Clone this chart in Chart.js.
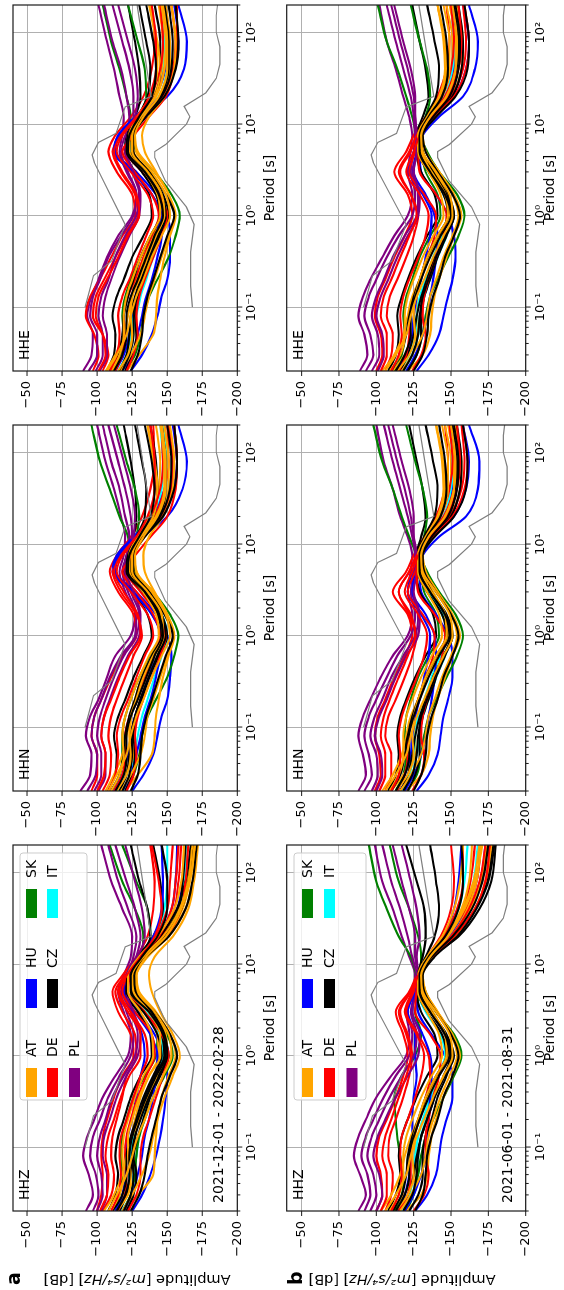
<!DOCTYPE html>
<html><head><meta charset="utf-8">
<script src="https://cdn.jsdelivr.net/npm/chart.js@4.4.1/dist/chart.umd.min.js"></script>
<style>
html,body{margin:0;padding:0;background:#fff;width:564px;height:1290px;overflow:hidden}
#fig{position:absolute;left:0;top:0;width:1290px;height:564px;transform-origin:0 0;transform:translate(0px,1290px) rotate(-90deg);background:#fff}
#fig canvas{position:absolute;left:0;top:0}
</style></head><body><div id="fig"></div>
<script>
// ---------- axis definitions ----------
const periods = [0.02,0.03,0.05,0.08,0.13,0.2,0.35,0.6,1,1.7,3,5,7.5,12,20,40,80,200];
const xTickValues = [0.02,0.03,0.04,0.05,0.06,0.07,0.08,0.09,0.1,0.2,0.3,0.4,0.5,0.6,0.7,0.8,0.9,1,2,3,4,5,6,7,8,9,10,20,30,40,50,60,70,80,90,100,200];
const xMajorTicks = [0.1,1,10,100];
const xTickLabels = ['10\u207B\u00B9','10\u2070','10\u00B9','10\u00B2'];
const yTickValues = [-200,-175,-150,-125,-100,-75,-50];
const networks = ['AT','DE','PL','HU','CZ','SK','IT'];
const netColors = ['#ffa500','#ff0000','#800080','#0000ff','#000000','#008000','#00ffff'];
const drawOrder = ['PL','SK','HU','IT','DE','CZ','AT'];
const dateLabels = ['2021-12-01 - 2022-02-28','2021-06-01 - 2021-08-31'];
const channels = ['HHZ','HHN','HHE'];
const rowLetters = ['a','b'];

// Peterson noise models (NHNM / NLNM)
const nhnmPeriods = [0.1,0.22,0.32,0.8,3.8,4.6,6.3,7.9,15.4,20,354.8];
const nhnmValues = [-91.5,-97.4,-110.5,-120.0,-98.0,-96.5,-101.0,-113.5,-120.0,-138.5,-126.0];
const nlnmPeriods = [0.1,0.17,0.4,0.8,1.24,2.4,4.3,5,6,10,12,15.6,21.9,31.6,45,70,101,154,328];
const nlnmValues = [-168.0,-166.7,-166.7,-169.2,-163.7,-148.6,-141.1,-141.1,-149.0,-163.8,-166.2,-162.1,-177.5,-185.0,-187.5,-187.5,-185.0,-185.0,-187.5];

// ---------- a: 2021-12-01 - 2022-02-28 ----------
const aHHZ_AT = [
[-112,-119,-128,-126,-125,-127,-131,-137,-144,-143,-135,-124,-124,-132,-146,-158,-164,-167],
[-120,-129,-140,-141,-142,-143,-146,-151,-156,-152,-142,-130,-128,-136,-151,-163,-168,-170],
[-105,-112,-118,-121,-125,-130,-136,-143,-150,-149,-140,-128,-127,-135,-150,-161,-166,-169],
[-118,-125,-132,-137,-140,-143,-148,-154,-159,-154,-145,-139,-137,-141,-154,-165,-169,-172],
[-110,-116,-119,-118,-119,-122,-127,-133,-140,-139,-131,-122,-122,-130,-143,-155,-160,-162],
[-114,-122,-124,-122,-122,-125,-130,-137,-145,-145,-137,-126,-125,-133,-147,-159,-165,-168],
[-108,-114,-121,-125,-129,-134,-140,-147,-153,-151,-141,-129,-128,-135,-149,-160,-166,-170]];
const aHHZ_DE = [
[-100,-103,-104,-103,-104,-107,-112,-118,-126,-124,-115,-111,-118,-128,-136,-140,-141,-138],
[-104,-110,-112,-110,-111,-114,-118,-121,-128,-127,-118,-113,-120,-131,-142,-150,-152,-154],
[-115,-120,-121,-120,-121,-124,-129,-135,-141,-139,-127,-118,-122,-133,-146,-155,-158,-160],
[-122,-128,-131,-131,-133,-137,-142,-147,-151,-146,-134,-122,-124,-134,-149,-160,-163,-165],
[-102,-107,-108,-106,-108,-112,-117,-123,-131,-131,-122,-115,-121,-131,-144,-153,-156,-158],
[-110,-115,-117,-116,-117,-121,-126,-131,-136,-134,-124,-116,-121,-131,-141,-146,-144,-139]];
const aHHZ_PL = [
[-92,-97,-94,-90,-93,-98,-104,-113,-122,-124,-119,-115,-119,-124,-125,-118,-110,-103],
[-97,-101,-99,-95,-97,-102,-108,-116,-124,-126,-121,-117,-121,-126,-128,-122,-115,-108],
[-100,-104,-103,-100,-102,-106,-111,-119,-127,-129,-124,-119,-122,-128,-131,-127,-121,-113],
[-103,-107,-107,-104,-105,-109,-114,-121,-129,-131,-126,-121,-123,-129,-134,-132,-127,-120]];
const aHHZ_HU = [
[-125,-132,-138,-142,-145,-147,-149,-150,-148,-141,-130,-120,-121,-131,-146,-157,-161,-163],
[-113,-118,-120,-121,-122,-125,-128,-131,-134,-132,-125,-118,-121,-130,-140,-146,-147,-146],
[-119,-125,-129,-132,-134,-137,-140,-142,-143,-138,-127,-119,-121,-130,-144,-153,-156,-157]];
const aHHZ_CZ = [
[-108,-113,-115,-113,-115,-119,-124,-131,-139,-138,-129,-120,-121,-129,-140,-147,-145,-140],
[-116,-121,-124,-126,-129,-133,-138,-145,-151,-147,-137,-125,-125,-133,-147,-158,-161,-163],
[-121,-126,-128,-126,-127,-130,-134,-141,-148,-146,-138,-126,-125,-132,-145,-157,-163,-167],
[-111,-118,-121,-121,-124,-128,-133,-140,-146,-143,-133,-121,-122,-130,-138,-136,-130,-124],
[-124,-130,-134,-136,-139,-142,-146,-152,-157,-152,-141,-128,-127,-135,-151,-163,-168,-171],
[-119,-124,-126,-125,-127,-131,-137,-144,-150,-148,-139,-127,-126,-134,-148,-160,-165,-168],
[-114,-120,-123,-123,-125,-129,-135,-142,-149,-147,-137,-124,-124,-132,-143,-150,-150,-146]];
const aHHZ_SK = [
[-112,-116,-118,-117,-118,-121,-126,-134,-142,-143,-134,-124,-125,-131,-133,-127,-118,-109],
[-118,-124,-127,-128,-130,-134,-140,-148,-154,-150,-140,-127,-127,-133,-138,-136,-128,-118]];
const aHHZ_IT = [
[-118,-124,-126,-128,-130,-133,-137,-143,-148,-145,-135,-124,-125,-133,-142,-148,-150,-150],
[-116,-121,-123,-124,-126,-130,-135,-141,-147,-145,-136,-125,-125,-134,-148,-158,-162,-164]];

const aHHN_AT = [
[-112,-119,-126,-124,-124,-127,-132,-139,-146,-144,-134,-123,-124,-130,-139,-144,-145,-142],
[-120,-129,-139,-141,-142,-144,-147,-151,-155,-150,-140,-128,-127,-134,-145,-151,-151,-148],
[-106,-112,-118,-121,-124,-129,-135,-141,-148,-146,-137,-126,-125,-131,-140,-143,-141,-136],
[-117,-124,-131,-134,-136,-140,-145,-150,-154,-150,-141,-134,-133,-137,-147,-154,-155,-152],
[-110,-116,-119,-118,-120,-124,-130,-137,-144,-142,-133,-123,-123,-129,-137,-141,-140,-136],
[-114,-121,-124,-123,-124,-128,-133,-140,-147,-146,-136,-125,-125,-131,-142,-148,-148,-145],
[-108,-114,-121,-124,-128,-133,-139,-146,-152,-149,-139,-128,-127,-133,-143,-149,-149,-146]];
const aHHN_DE = [
[-96,-100,-100,-96,-98,-103,-110,-118,-128,-126,-115,-109,-114,-124,-132,-138,-141,-140],
[-104,-109,-110,-108,-110,-114,-120,-126,-132,-128,-117,-111,-118,-130,-141,-148,-151,-150],
[-112,-118,-120,-120,-123,-128,-134,-140,-145,-140,-128,-118,-127,-138,-150,-156,-157,-155],
[-121,-126,-128,-127,-129,-133,-139,-145,-149,-143,-131,-121,-124,-133,-146,-153,-154,-151],
[-100,-105,-106,-103,-105,-110,-116,-123,-131,-129,-119,-112,-117,-128,-138,-145,-147,-146],
[-108,-113,-115,-114,-117,-122,-128,-134,-140,-136,-124,-114,-118,-128,-136,-141,-141,-138]];
const aHHN_PL = [
[-88,-95,-96,-92,-95,-101,-107,-113,-124,-127,-120,-116,-119,-120,-117,-112,-106,-100],
[-93,-99,-100,-96,-98,-103,-109,-117,-127,-128,-122,-118,-121,-123,-120,-116,-110,-104],
[-98,-103,-103,-100,-102,-106,-112,-119,-128,-130,-124,-120,-122,-125,-124,-120,-115,-108],
[-101,-106,-106,-103,-105,-109,-115,-122,-130,-131,-126,-121,-123,-126,-127,-124,-119,-112]];
const aHHN_HU = [
[-125,-133,-140,-143,-146,-150,-152,-153,-150,-142,-128,-113,-116,-132,-150,-161,-164,-158],
[-112,-118,-122,-124,-127,-131,-136,-141,-145,-139,-125,-111,-114,-126,-140,-148,-150,-148],
[-118,-124,-128,-131,-134,-138,-142,-145,-146,-139,-126,-112,-115,-128,-144,-154,-157,-154]];
const aHHN_CZ = [
[-108,-113,-114,-112,-115,-120,-126,-133,-139,-136,-126,-119,-121,-126,-128,-127,-124,-119],
[-116,-121,-123,-124,-127,-131,-137,-143,-148,-145,-134,-123,-124,-131,-140,-143,-142,-138],
[-120,-125,-127,-126,-128,-132,-137,-144,-150,-146,-136,-124,-125,-133,-144,-149,-149,-146],
[-110,-116,-119,-120,-123,-127,-132,-139,-146,-143,-133,-121,-122,-128,-134,-135,-132,-127],
[-124,-129,-131,-132,-135,-139,-144,-149,-154,-148,-138,-126,-126,-134,-147,-155,-157,-155],
[-118,-123,-125,-125,-127,-131,-137,-143,-149,-146,-136,-125,-125,-133,-145,-152,-153,-150],
[-113,-119,-121,-121,-124,-129,-135,-141,-147,-144,-134,-122,-123,-130,-138,-141,-139,-134]];
const aHHN_SK = [
[-110,-116,-118,-118,-120,-124,-130,-138,-146,-144,-134,-122,-123,-122,-116,-109,-102,-96],
[-120,-126,-130,-132,-136,-142,-150,-155,-158,-152,-140,-127,-126,-128,-130,-127,-121,-114]];
const aHHN_IT = [
[-118,-124,-127,-129,-132,-136,-141,-146,-150,-146,-134,-122,-123,-131,-141,-146,-147,-145],
[-115,-121,-124,-125,-128,-132,-138,-144,-149,-146,-135,-124,-124,-132,-143,-149,-150,-147]];

const aHHE_AT = [
[-111,-118,-126,-125,-125,-128,-133,-140,-147,-145,-135,-124,-124,-130,-140,-146,-147,-144],
[-121,-130,-140,-142,-143,-145,-148,-152,-156,-151,-141,-129,-127,-134,-146,-152,-152,-149],
[-106,-113,-119,-122,-125,-130,-136,-142,-148,-146,-137,-126,-125,-131,-141,-145,-143,-138],
[-117,-124,-131,-134,-137,-141,-146,-151,-155,-151,-142,-134,-132,-137,-148,-155,-156,-153],
[-110,-116,-119,-119,-121,-125,-131,-138,-145,-143,-134,-123,-123,-129,-138,-143,-142,-137],
[-115,-122,-125,-124,-125,-129,-134,-141,-148,-146,-136,-125,-125,-131,-142,-148,-149,-146],
[-107,-114,-121,-124,-128,-133,-139,-146,-152,-149,-139,-128,-127,-133,-144,-150,-150,-147]];
const aHHE_DE = [
[-97,-101,-98,-92,-95,-102,-110,-118,-127,-125,-114,-108,-113,-124,-133,-139,-141,-139],
[-104,-108,-104,-97,-99,-105,-113,-121,-129,-127,-117,-111,-117,-129,-141,-148,-150,-148],
[-113,-118,-120,-119,-122,-127,-133,-139,-144,-139,-127,-118,-126,-137,-149,-155,-157,-157],
[-121,-126,-129,-128,-130,-134,-140,-146,-150,-144,-132,-121,-124,-134,-147,-154,-156,-153],
[-101,-106,-104,-99,-101,-107,-115,-122,-130,-128,-118,-112,-117,-128,-138,-145,-147,-145],
[-109,-114,-116,-115,-118,-123,-129,-135,-140,-136,-124,-114,-118,-129,-137,-142,-142,-139]];
const aHHE_PL = [
[-90,-96,-97,-93,-96,-101,-107,-115,-125,-128,-121,-116,-118,-119,-116,-112,-107,-101],
[-94,-100,-100,-95,-97,-102,-108,-117,-126,-128,-122,-117,-120,-123,-121,-117,-111,-105],
[-99,-104,-104,-101,-103,-108,-113,-120,-128,-130,-125,-120,-122,-126,-126,-123,-118,-111],
[-102,-107,-107,-104,-106,-110,-116,-123,-130,-131,-126,-121,-123,-127,-129,-127,-122,-115]];
const aHHE_HU = [
[-124,-132,-139,-143,-146,-150,-152,-152,-150,-142,-128,-113,-116,-131,-150,-162,-164,-158],
[-113,-119,-123,-125,-128,-132,-137,-142,-145,-139,-125,-112,-115,-127,-141,-149,-151,-149],
[-118,-125,-129,-132,-135,-139,-143,-146,-146,-139,-126,-112,-115,-128,-145,-155,-158,-155]];
const aHHE_CZ = [
[-107,-112,-113,-111,-114,-119,-125,-133,-139,-137,-127,-120,-121,-127,-131,-130,-127,-122],
[-116,-121,-123,-124,-127,-131,-137,-143,-148,-145,-134,-123,-124,-131,-141,-145,-145,-141],
[-120,-125,-128,-127,-129,-133,-138,-145,-151,-147,-137,-125,-125,-134,-145,-151,-151,-148],
[-109,-115,-118,-119,-122,-126,-131,-138,-145,-142,-132,-121,-122,-129,-136,-138,-135,-130],
[-124,-129,-132,-133,-136,-140,-145,-150,-155,-149,-138,-126,-126,-135,-148,-156,-158,-156],
[-118,-123,-126,-126,-128,-132,-138,-144,-149,-146,-136,-125,-125,-133,-146,-153,-154,-151],
[-112,-118,-121,-121,-124,-129,-135,-141,-147,-144,-134,-122,-123,-130,-139,-142,-140,-135]];
const aHHE_SK = [
[-111,-117,-119,-118,-120,-124,-131,-139,-147,-145,-135,-123,-123,-124,-121,-116,-110,-104],
[-120,-127,-131,-133,-137,-143,-151,-156,-159,-153,-141,-128,-126,-130,-135,-134,-129,-122]];
const aHHE_IT = [
[-117,-123,-126,-128,-131,-135,-140,-146,-150,-146,-134,-122,-123,-131,-142,-147,-148,-146],
[-115,-121,-124,-126,-129,-133,-139,-145,-149,-146,-135,-124,-124,-132,-144,-150,-151,-148]];

// ---------- b: 2021-06-01 - 2021-08-31 ----------
const bHHZ_AT = [
[-110,-118,-127,-126,-126,-129,-134,-141,-148,-146,-137,-129,-129,-136,-150,-163,-170,-174],
[-120,-130,-134,-135,-137,-140,-145,-151,-156,-151,-141,-133,-131,-138,-153,-166,-173,-177],
[-103,-110,-116,-119,-123,-128,-134,-141,-148,-146,-138,-130,-129,-135,-147,-158,-165,-169],
[-116,-123,-130,-133,-135,-138,-143,-149,-154,-150,-141,-133,-131,-137,-150,-161,-167,-170],
[-109,-115,-118,-118,-120,-124,-130,-137,-144,-142,-134,-128,-128,-134,-144,-152,-156,-158],
[-113,-121,-125,-124,-125,-128,-133,-140,-147,-146,-137,-130,-129,-135,-147,-157,-162,-164],
[-106,-113,-120,-123,-127,-132,-138,-145,-151,-149,-140,-131,-130,-136,-148,-159,-166,-171]];
const bHHZ_DE = [
[-100,-104,-103,-100,-102,-107,-113,-118,-121,-118,-113,-122,-127,-134,-143,-150,-152,-150],
[-106,-110,-111,-108,-109,-113,-118,-122,-124,-121,-116,-123,-128,-136,-148,-158,-163,-166],
[-115,-121,-123,-123,-125,-129,-133,-136,-135,-128,-120,-125,-128,-135,-147,-160,-167,-170],
[-125,-132,-135,-133,-133,-135,-138,-142,-143,-136,-126,-127,-129,-138,-152,-166,-173,-176],
[-103,-107,-107,-104,-106,-110,-115,-120,-123,-120,-115,-123,-128,-135,-145,-154,-158,-158],
[-110,-115,-117,-116,-117,-121,-126,-130,-132,-127,-119,-124,-128,-136,-150,-162,-169,-173]];
const bHHZ_PL = [
[-88,-93,-89,-85,-88,-93,-100,-110,-120,-122,-120,-124,-126,-122,-117,-111,-104,-99],
[-92,-96,-94,-90,-93,-98,-105,-113,-122,-124,-121,-125,-127,-124,-121,-116,-110,-104],
[-96,-100,-98,-94,-97,-102,-109,-117,-125,-127,-123,-126,-128,-126,-126,-122,-117,-111],
[-100,-104,-102,-98,-101,-106,-113,-121,-128,-129,-124,-127,-128,-127,-129,-127,-123,-117]];
const bHHZ_HU = [
[-126,-134,-140,-142,-144,-147,-151,-151,-146,-137,-128,-127,-128,-136,-150,-163,-170,-173],
[-114,-119,-122,-123,-124,-124,-125,-127,-126,-126,-121,-126,-129,-135,-145,-152,-155,-157],
[-119,-125,-130,-133,-134,-135,-136,-137,-136,-131,-124,-126,-129,-136,-149,-161,-167,-170]];
const bHHZ_CZ = [
[-108,-113,-116,-115,-117,-121,-127,-134,-141,-139,-130,-127,-128,-133,-139,-142,-140,-136],
[-115,-121,-125,-127,-130,-134,-139,-146,-152,-147,-137,-130,-130,-138,-153,-166,-174,-178],
[-122,-128,-131,-131,-133,-137,-141,-147,-151,-146,-136,-129,-129,-137,-155,-169,-177,-180],
[-111,-117,-120,-121,-124,-128,-133,-140,-147,-144,-134,-128,-128,-131,-133,-132,-127,-120],
[-126,-131,-133,-134,-137,-141,-145,-151,-155,-150,-140,-132,-131,-139,-154,-167,-175,-179],
[-118,-124,-127,-128,-130,-134,-139,-145,-150,-146,-137,-130,-130,-137,-151,-164,-171,-175],
[-113,-119,-122,-122,-125,-129,-135,-142,-149,-146,-136,-129,-129,-135,-146,-155,-158,-157]];
const bHHZ_SK = [
[-112,-117,-118,-116,-114,-113,-112,-117,-126,-130,-126,-129,-127,-123,-115,-107,-100,-95],
[-120,-125,-128,-130,-133,-138,-145,-152,-157,-152,-140,-133,-130,-130,-128,-122,-115,-109]];
const bHHZ_IT = [
[-118,-124,-127,-128,-130,-133,-137,-142,-147,-143,-133,-128,-129,-137,-149,-160,-165,-168],
[-116,-122,-125,-126,-128,-131,-136,-141,-146,-143,-134,-129,-129,-136,-146,-155,-159,-161]];

const bHHN_AT = [
[-110,-118,-126,-126,-126,-129,-134,-141,-148,-146,-137,-129,-129,-135,-145,-150,-150,-146],
[-120,-130,-135,-136,-138,-141,-146,-151,-156,-151,-141,-133,-131,-137,-149,-156,-157,-153],
[-104,-111,-117,-120,-123,-128,-134,-141,-148,-146,-138,-130,-129,-134,-142,-146,-145,-140],
[-116,-123,-130,-133,-135,-139,-144,-150,-154,-150,-141,-133,-131,-136,-146,-152,-152,-148],
[-109,-115,-118,-118,-120,-124,-130,-137,-144,-142,-134,-128,-128,-133,-141,-145,-144,-140],
[-113,-121,-125,-124,-125,-128,-133,-140,-147,-146,-137,-130,-129,-134,-143,-148,-148,-144],
[-106,-113,-120,-123,-127,-132,-138,-145,-151,-149,-140,-131,-130,-135,-146,-152,-153,-150]];
const bHHN_DE = [
[-99,-103,-102,-99,-101,-106,-112,-119,-124,-121,-111,-120,-125,-132,-140,-146,-148,-146],
[-106,-110,-110,-106,-108,-113,-119,-124,-127,-122,-115,-122,-127,-135,-145,-152,-155,-153],
[-114,-119,-121,-121,-124,-128,-133,-138,-139,-131,-121,-126,-129,-137,-149,-157,-159,-157],
[-124,-130,-132,-130,-131,-134,-139,-144,-146,-139,-128,-127,-129,-138,-151,-159,-161,-158],
[-102,-106,-106,-103,-105,-109,-115,-121,-126,-123,-115,-122,-127,-134,-143,-149,-151,-149],
[-110,-115,-116,-115,-117,-121,-127,-132,-134,-128,-119,-124,-128,-136,-147,-154,-156,-154]];
const bHHN_PL = [
[-88,-93,-91,-88,-91,-96,-103,-111,-121,-124,-121,-123,-124,-121,-116,-111,-105,-100],
[-92,-97,-95,-92,-95,-100,-107,-114,-123,-126,-123,-125,-126,-124,-121,-116,-111,-105],
[-97,-101,-100,-96,-99,-104,-110,-118,-126,-128,-124,-127,-127,-125,-123,-119,-114,-108],
[-100,-104,-103,-99,-102,-107,-113,-120,-128,-129,-125,-127,-127,-125,-125,-122,-117,-111]];
const bHHN_HU = [
[-127,-135,-141,-143,-145,-148,-151,-151,-148,-140,-130,-129,-131,-142,-160,-168,-169,-162],
[-114,-119,-123,-124,-126,-129,-132,-135,-136,-130,-121,-124,-128,-135,-145,-151,-152,-150],
[-119,-125,-130,-133,-135,-137,-139,-140,-139,-133,-124,-126,-129,-138,-152,-160,-162,-158]];
const bHHN_CZ = [
[-108,-113,-115,-114,-116,-120,-126,-133,-140,-138,-129,-127,-127,-130,-133,-131,-127,-122],
[-116,-121,-124,-126,-129,-133,-138,-145,-151,-147,-137,-130,-130,-137,-147,-153,-154,-151],
[-121,-126,-129,-129,-131,-135,-140,-146,-151,-146,-136,-130,-130,-138,-150,-156,-157,-154],
[-110,-116,-119,-121,-124,-128,-133,-140,-147,-144,-134,-128,-128,-132,-139,-141,-138,-133],
[-125,-130,-133,-134,-137,-141,-145,-151,-155,-150,-140,-132,-131,-139,-152,-160,-161,-158],
[-118,-124,-127,-128,-130,-134,-139,-145,-150,-146,-137,-131,-130,-137,-148,-154,-155,-152],
[-113,-119,-122,-122,-125,-129,-135,-142,-149,-146,-136,-129,-129,-134,-143,-147,-146,-142]];
const bHHN_SK = [
[-113,-118,-120,-119,-120,-123,-128,-135,-142,-140,-132,-130,-127,-122,-117,-111,-104,-98],
[-121,-127,-130,-132,-135,-140,-147,-154,-158,-153,-142,-134,-130,-132,-134,-131,-126,-120]];
const bHHN_IT = [
[-118,-124,-127,-129,-131,-135,-140,-146,-150,-145,-135,-129,-129,-136,-146,-151,-152,-150],
[-116,-122,-125,-126,-128,-132,-137,-143,-148,-144,-134,-129,-129,-135,-145,-150,-151,-149]];

const bHHE_AT = [
[-111,-119,-127,-127,-127,-130,-135,-142,-149,-147,-138,-129,-129,-136,-146,-151,-151,-147],
[-121,-131,-136,-137,-139,-142,-147,-152,-157,-152,-142,-133,-131,-138,-150,-157,-158,-154],
[-104,-112,-118,-121,-124,-129,-135,-142,-149,-147,-139,-130,-129,-135,-143,-147,-146,-141],
[-117,-124,-131,-134,-136,-140,-145,-151,-155,-151,-142,-133,-131,-137,-147,-153,-153,-149],
[-109,-116,-119,-119,-121,-125,-131,-138,-145,-143,-135,-128,-128,-134,-142,-146,-145,-141],
[-114,-122,-126,-125,-126,-129,-134,-141,-148,-146,-137,-130,-129,-135,-144,-149,-149,-145],
[-106,-113,-120,-123,-127,-132,-138,-145,-151,-149,-140,-131,-130,-136,-147,-153,-154,-151]];
const bHHE_DE = [
[-100,-104,-103,-99,-101,-106,-112,-119,-124,-121,-112,-120,-125,-133,-141,-147,-149,-147],
[-106,-110,-111,-107,-109,-114,-120,-125,-128,-123,-116,-123,-128,-136,-146,-153,-156,-154],
[-115,-120,-122,-122,-125,-129,-134,-139,-140,-132,-122,-126,-129,-138,-150,-158,-160,-158],
[-124,-130,-133,-131,-132,-135,-140,-145,-147,-140,-129,-128,-130,-139,-152,-160,-162,-159],
[-103,-107,-107,-103,-105,-110,-116,-122,-127,-123,-115,-122,-127,-135,-144,-150,-152,-150],
[-110,-115,-117,-116,-118,-122,-128,-133,-135,-129,-120,-125,-129,-137,-148,-155,-157,-155]];
const bHHE_PL = [
[-89,-94,-92,-88,-91,-96,-104,-112,-121,-124,-121,-123,-124,-122,-118,-113,-107,-102],
[-93,-98,-96,-92,-95,-100,-107,-115,-124,-126,-123,-125,-126,-125,-123,-118,-113,-107],
[-97,-102,-101,-97,-100,-105,-111,-119,-127,-128,-124,-127,-127,-126,-125,-121,-116,-110],
[-101,-105,-104,-100,-103,-108,-114,-121,-128,-129,-125,-127,-127,-126,-126,-123,-118,-112]];
const bHHE_HU = [
[-127,-135,-142,-145,-148,-151,-153,-152,-148,-140,-130,-129,-131,-142,-158,-166,-168,-162],
[-114,-120,-124,-125,-127,-130,-133,-136,-137,-131,-122,-125,-129,-136,-146,-152,-153,-151],
[-120,-126,-131,-134,-136,-138,-140,-141,-139,-133,-125,-127,-130,-139,-152,-160,-162,-158]];
const bHHE_CZ = [
[-108,-113,-115,-114,-117,-121,-127,-134,-141,-139,-130,-127,-127,-131,-135,-133,-129,-124],
[-116,-121,-125,-127,-130,-134,-139,-146,-152,-148,-138,-131,-130,-138,-148,-154,-155,-152],
[-121,-127,-130,-130,-132,-136,-141,-147,-152,-147,-137,-130,-130,-139,-151,-157,-158,-155],
[-110,-116,-120,-122,-125,-129,-134,-141,-148,-145,-135,-128,-128,-133,-140,-142,-139,-134],
[-125,-131,-134,-135,-138,-142,-146,-152,-156,-151,-141,-133,-131,-140,-153,-161,-162,-159],
[-118,-124,-128,-129,-131,-135,-140,-146,-151,-147,-138,-131,-130,-138,-149,-155,-156,-153],
[-113,-119,-123,-123,-126,-130,-136,-143,-150,-146,-136,-129,-129,-135,-144,-148,-147,-143]];
const bHHE_SK = [
[-112,-117,-119,-118,-120,-124,-129,-136,-143,-141,-133,-130,-127,-124,-120,-114,-107,-101],
[-121,-127,-131,-133,-136,-141,-148,-155,-159,-154,-142,-134,-130,-133,-136,-134,-129,-123]];
const bHHE_IT = [
[-118,-124,-128,-130,-132,-136,-141,-147,-151,-146,-135,-129,-129,-137,-147,-152,-153,-151],
[-116,-122,-126,-127,-129,-133,-138,-144,-149,-145,-135,-129,-129,-136,-146,-151,-152,-150]];

// ---------- panel bookkeeping ----------
const panelData = [
  [ {AT:aHHZ_AT,DE:aHHZ_DE,PL:aHHZ_PL,HU:aHHZ_HU,CZ:aHHZ_CZ,SK:aHHZ_SK,IT:aHHZ_IT},
    {AT:aHHN_AT,DE:aHHN_DE,PL:aHHN_PL,HU:aHHN_HU,CZ:aHHN_CZ,SK:aHHN_SK,IT:aHHN_IT},
    {AT:aHHE_AT,DE:aHHE_DE,PL:aHHE_PL,HU:aHHE_HU,CZ:aHHE_CZ,SK:aHHE_SK,IT:aHHE_IT} ],
  [ {AT:bHHZ_AT,DE:bHHZ_DE,PL:bHHZ_PL,HU:bHHZ_HU,CZ:bHHZ_CZ,SK:bHHZ_SK,IT:bHHZ_IT},
    {AT:bHHN_AT,DE:bHHN_DE,PL:bHHN_PL,HU:bHHN_HU,CZ:bHHN_CZ,SK:bHHN_SK,IT:bHHN_IT},
    {AT:bHHE_AT,DE:bHHE_DE,PL:bHHE_PL,HU:bHHE_HU,CZ:bHHE_CZ,SK:bHHE_SK,IT:bHHE_IT} ]
];

// layout (figure is landscape 1290x564, then rotated)
const FIG_W = 1290, FIG_H = 564;
const colLeft = [79, 499, 919], plotW = 366;
const rowTop = [13, 286.7], rowBottom = [237.3, 525.7];
const xAxisH = [42, 36], xTitlePad = [1.5, 3.9];
const yAxisW = 75;
const yLabelCenter = [137, 402];
const FONT = "'DejaVu Sans', sans-serif";
Chart.defaults.font.family = FONT;
Chart.defaults.color = '#000';

function colorOf(net){ return netColors[networks.indexOf(net)]; }

function buildDatasets(sets){
  const ds = [];
  for (let i = 0; i < 7; i++) {
    drawOrder.forEach(net => {
      const rows = sets[net];
      if (rows && rows[i]) ds.push({
        data: periods.map((p, k) => ({x: p, y: rows[i][k]})),
        borderColor: colorOf(net), borderWidth: 2.1, pointRadius: 0,
        cubicInterpolationMode: 'monotone', fill: false, clip: 0
      });
    });
  }
  ds.push({data: nhnmPeriods.map((p,k)=>({x:p,y:nhnmValues[k]})), borderColor:'#7f7f7f', borderWidth:1.2, pointRadius:0, tension:0, fill:false, clip:0});
  ds.push({data: nlnmPeriods.map((p,k)=>({x:p,y:nlnmValues[k]})), borderColor:'#7f7f7f', borderWidth:1.2, pointRadius:0, tension:0, fill:false, clip:0});
  const n = ds.length;
  ds.forEach((d, i) => d.order = n - i);
  return ds;
}

function roundRect(ctx, x, y, w, h, r){
  ctx.beginPath();
  ctx.moveTo(x+r, y); ctx.lineTo(x+w-r, y); ctx.quadraticCurveTo(x+w, y, x+w, y+r);
  ctx.lineTo(x+w, y+h-r); ctx.quadraticCurveTo(x+w, y+h, x+w-r, y+h);
  ctx.lineTo(x+r, y+h); ctx.quadraticCurveTo(x, y+h, x, y+h-r);
  ctx.lineTo(x, y+r); ctx.quadraticCurveTo(x, y, x+r, y); ctx.closePath();
}

const legendLayout = [
  {box:[190,20,247,67], rows:[31.5,52.5,74.5]},
  {box:[190,294,247,72], rows:[307.5,329.5,352]}
];
const legendColsX = [193, 282, 372];
const legendSlots = [[0,0],[0,1],[0,2],[1,0],[1,1],[2,0],[2,1]]; // AT DE PL HU CZ SK IT (column-wise)

function drawYLabel(ctx, cx, cy){
  const parts = [['Amplitude [', ''], ['m\u00B2/s\u2074/Hz', 'italic '], ['] [dB]', '']];
  const size = "14.5px ";
  ctx.save();
  ctx.translate(cx, cy); ctx.rotate(-Math.PI / 2);
  let total = 0;
  parts.forEach(p => { ctx.font = p[1] + size + FONT; total += ctx.measureText(p[0]).width; });
  let x = -total / 2;
  ctx.textBaseline = 'middle'; ctx.textAlign = 'left'; ctx.fillStyle = '#000';
  parts.forEach(p => { ctx.font = p[1] + size + FONT; ctx.fillText(p[0], x, 0); x += ctx.measureText(p[0]).width; });
  ctx.restore();
}

const decorPlugin = {
  id: 'decor',
  afterDatasetsDraw(chart, args, opts) {
    const {ctx, chartArea: a, scales: {x, y}} = chart;
    ctx.save();
    // spines
    ctx.strokeStyle = '#1a1a1a'; ctx.lineWidth = 1.2;
    ctx.strokeRect(a.left, a.top, a.right - a.left, a.bottom - a.top);
    // tick marks
    ctx.lineWidth = 1;
    ctx.beginPath();
    x.ticks.forEach(t => {
      const px = x.getPixelForValue(t.value);
      const len = xMajorTicks.includes(t.value) ? 5 : 3;
      ctx.moveTo(px, a.bottom); ctx.lineTo(px, a.bottom + len);
    });
    y.ticks.forEach(t => {
      const py = y.getPixelForValue(t.value);
      ctx.moveTo(a.left - 5, py); ctx.lineTo(a.left, py);
    });
    ctx.stroke();
    // texts
    ctx.fillStyle = '#000'; ctx.textAlign = 'left'; ctx.textBaseline = 'alphabetic';
    ctx.font = "14px " + FONT;
    ctx.fillText(opts.channel, a.left + 11, a.top + 16);
    if (opts.date) {
      ctx.font = "14px " + FONT;
      ctx.fillText(opts.date, a.left + 8, a.bottom - 14);
    }
    if (opts.legend) {
      const L = opts.legend;
      const [bx, by, bw, bh] = L.box;
      roundRect(ctx, bx, by, bw, bh, 3);
      ctx.fillStyle = 'rgba(255,255,255,0.8)'; ctx.fill();
      ctx.strokeStyle = '#cccccc'; ctx.lineWidth = 1; ctx.stroke();
      ctx.font = "14px " + FONT; ctx.textBaseline = 'middle';
      networks.forEach((net, i) => {
        const [c, r] = legendSlots[i];
        const px = legendColsX[c], py = L.rows[r];
        ctx.fillStyle = colorOf(net);
        ctx.fillRect(px, py - 5.5, 29, 11);
        ctx.fillStyle = '#000';
        ctx.fillText(net, px + 40, py + 0.5);
      });
    }
    if (opts.yLabel) drawYLabel(ctx, 11.5, opts.yLabel);
    if (opts.letter) {
      ctx.font = "bold 19px " + FONT; ctx.textBaseline = 'alphabetic'; ctx.textAlign = 'left'; ctx.fillStyle = '#000';
      ctx.fillText(opts.letter.text, opts.letter.x, opts.letter.y);
    }
    ctx.restore();
  }
};

const fig = document.getElementById('fig');
for (let r = 0; r < 2; r++) {
  for (let c = 0; c < 3; c++) {
    const L = colLeft[c], R = L + plotW, T = rowTop[r], B = rowBottom[r];
    const cv = document.createElement('canvas');
    cv.width = FIG_W; cv.height = FIG_H;
    cv.style.width = FIG_W + 'px'; cv.style.height = FIG_H + 'px';
    fig.appendChild(cv);
    const isZ = c === 0;
    new Chart(cv, {
      type: 'line',
      data: {datasets: buildDatasets(panelData[r][c])},
      options: {
        responsive: false, animation: false, devicePixelRatio: 1, events: [],
        layout: {padding: {left: L - yAxisW, right: FIG_W - R, top: T, bottom: FIG_H - B - xAxisH[r]}},
        plugins: {
          legend: {display: false}, tooltip: {enabled: false},
          decor: {
            channel: channels[c],
            date: isZ ? dateLabels[r] : null,
            legend: isZ ? legendLayout[r] : null,
            yLabel: isZ ? yLabelCenter[r] : null,
            letter: isZ ? {text: rowLetters[r], x: 5, y: r === 0 ? 20 : 302} : null
          }
        },
        scales: {
          x: {
            type: 'logarithmic', position: 'bottom', min: 0.02, max: 200,
            afterBuildTicks: s => { s.ticks = xTickValues.map(v => ({value: v, major: xMajorTicks.includes(v)})); },
            afterFit: s => { s.height = xAxisH[r]; s.paddingLeft = 0; s.paddingRight = 0; },
            border: {display: false},
            grid: {drawTicks: false, lineWidth: 1,
                   color: ctx => (ctx.tick && xMajorTicks.includes(ctx.tick.value)) ? '#b0b0b0' : 'rgba(0,0,0,0)'},
            ticks: {autoSkip: false, maxRotation: 0, minRotation: 0, padding: 7, color: '#000',
                    font: {size: 13},
                    callback: v => { const i = xMajorTicks.indexOf(v); return i >= 0 ? xTickLabels[i] : ''; }},
            title: {display: true, text: 'Period [s]', color: '#000', font: {size: 14, lineHeight: 1.2},
                    padding: {top: 0, bottom: xTitlePad[r] - 0.6}}
          },
          y: {
            type: 'linear', min: -200, max: -40,
            afterBuildTicks: s => { s.ticks = yTickValues.map(v => ({value: v})); },
            afterFit: s => { s.width = yAxisW; s.paddingTop = 0; s.paddingBottom = 0; },
            border: {display: false},
            grid: {drawTicks: false, lineWidth: 1, color: '#b0b0b0'},
            ticks: {padding: 10, color: '#000', font: {size: 13},
                    callback: v => String(v).replace('-', '\u2212')},
            title: {display: false}
          }
        }
      },
      plugins: [decorPlugin]
    });
  }
}
</script></body></html>
